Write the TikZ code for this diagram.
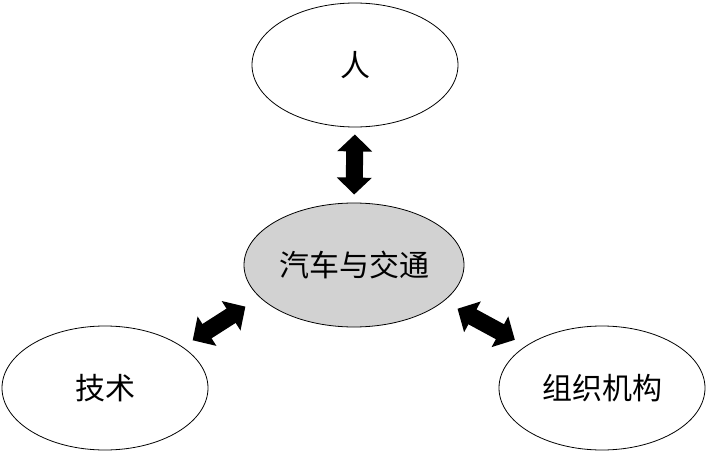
\documentclass[tikz,border=0pt]{standalone}
\usepackage{fontspec}
\newfontfamily\cjk{Noto Sans CJK SC}
\usetikzlibrary{shapes.geometric,arrows.meta}
\begin{document}
\begin{tikzpicture}[x=1pt,y=-1pt,
  bubble/.style={ellipse,draw=black,line width=0.8pt,inner sep=0pt,
    minimum width=206pt,minimum height=124pt,font=\cjk\fontsize{30pt}{32pt}\selectfont},
  hub/.style={bubble,fill=gray!35,minimum width=220pt,minimum height=124pt},
  fatarrow/.style={line width=17pt,draw=black,
    {Triangle[length=17pt,width=34pt]}-{Triangle[length=17pt,width=34pt]}}]
\useasboundingbox (0,0) rectangle (707,452);
\node[bubble] (ren) at (355,65) {人};
\node[hub] (car) at (354,265) {汽车与交通};
\node[bubble] (tech) at (105,388) {技术};
\node[bubble] (org) at (602,388) {组织机构};
\draw[fatarrow,shorten <=7pt,shorten >=8pt] (ren.south) -- (car.north);
\draw[fatarrow,shorten <=12pt,shorten >=17pt] (tech.28.6) -- (car.199.8);
\draw[fatarrow,shorten <=15.6pt,shorten >=12.5pt] (car.338.6) -- (org.151.2);
\end{tikzpicture}
\end{document}
